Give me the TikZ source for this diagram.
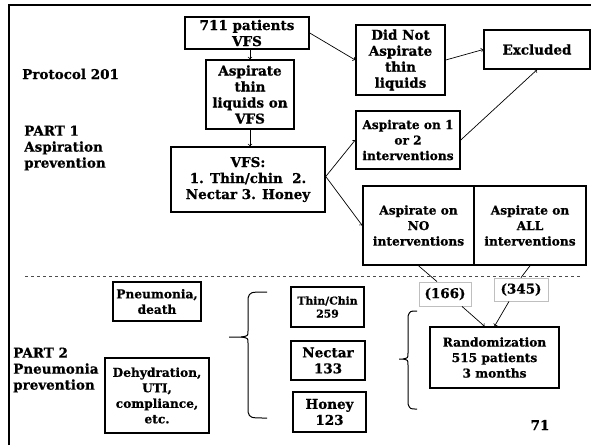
\documentclass[tikz,border=0pt]{standalone}
\usepackage{fontspec}
\setmainfont{DejaVu Serif}[BoldFeatures={FakeBold=0.8}]
\usetikzlibrary{calc}
\tikzset{
  big/.style={font=\bfseries\fontsize{13.5}{16}\selectfont},
  mid/.style={font=\bfseries\fontsize{12.2}{15.5}\selectfont},
  small/.style={font=\bfseries\fontsize{10.8}{13}\selectfont},
  box/.style={draw, line width=1.5pt, align=center, inner sep=1pt},
  count box/.style={draw=black!25, line width=0.8pt, align=center, inner sep=1pt},
  flow/.style={->, line width=0.7pt},
}
\begin{document}
\begin{tikzpicture}[x=1pt, y=-1pt, big]
\useasboundingbox (0,0) rectangle (591,445);
% frame
\draw [line width=2.5pt] (9,445) -- (9,5) -- (591,5);
% part 1
\node [box, minimum width=124, minimum height=32] (pat) at (247,33) {711 patients\\VFS};
\node [box, minimum width=88, minimum height=69] (thin) at (250,94.5) {Aspirate\\thin\\liquids on\\VFS};
\node [box, minimum width=154, minimum height=65] (vfs) at (248,179.5) {VFS:\\1. Thin/chin~~2.\\Nectar 3. Honey};
\node [box, minimum width=89, minimum height=70] (notasp) at (400.5,60) {Did Not\\Aspirate\\thin\\liquids};
\node [box, minimum width=106, minimum height=39] (excl) at (537,49.5) {Excluded};
\node [box, mid, minimum width=104, minimum height=58] (asp12) at (408,140) {Aspirate on 1\\or 2\\interventions};
\node [box, mid, minimum width=111, minimum height=79] (aspno) at (418.5,225.5) {Aspirate on\\NO\\interventions};
\node [box, mid, minimum width=112, minimum height=79] (aspall) at (530,225.5) {Aspirate on\\ALL\\interventions};
% part 2
\node [count box, minimum width=52, minimum height=24] (n166) at (445,294) {(166)};
\node [count box, minimum width=54, minimum height=23] (n345) at (521,289.5) {(345)};
\node [box, mid, minimum width=129, minimum height=61] (rand) at (494.5,357.5) {Randomization\\515 patients\\3 months};
\node [box, small, minimum width=73, minimum height=40] (thinchin) at (327.5,307) {Thin/Chin\\259};
\node [box, minimum width=74, minimum height=39] (nectar) at (328,360.5) {Nectar\\133};
\node [box, minimum width=73, minimum height=40] (honey) at (329.5,412) {Honey\\123};
\node [box, mid, minimum width=88, minimum height=39] (pneu) at (157,301.5) {Pneumonia,\\death};
\node [box, mid, minimum width=104, minimum height=75] (dehyd) at (157,395.5) {Dehydration,\\UTI,\\compliance,\\etc.};
% side labels
\node [anchor=west, inner sep=0pt] (protocol) at (22,74) {Protocol 201};
\node [anchor=west, align=left, inner sep=0pt] (part1) at (24,148) {PART 1\\Aspiration\\prevention};
\node [anchor=west, align=left, inner sep=0pt] (part2) at (13,370) {PART 2\\Pneumonia\\prevention};
\node [inner sep=0pt] (page) at (540,425) {71};
% connectors
\draw [flow] (thin.north |- pat.south) -- (thin.north);
\draw [flow] (thin.south) -- (thin.south |- vfs.north);
\draw [flow] (pat.east) -- (notasp.west);
\draw [flow] (notasp.east) -- (excl.west);
\draw [flow] (asp12.east) -- (excl.south);
\draw [flow] ([yshift=3pt]vfs.east) -- (asp12.west);
\draw [flow] ([yshift=3pt]vfs.east) -- (aspno.west);
\draw [line width=0.7pt] (aspno.south) -- ([xshift=-8pt]n166.north);
\draw [line width=0.7pt] (aspall.south) -- (n345.north);
\draw [flow] ([xshift=17pt]n166.south) -- ([xshift=-10pt]rand.north);
\draw [flow] ([xshift=-12pt]n345.south) -- (rand.north);
% divider
\draw [dashed, line width=0.6pt, black!70] (25,276) -- (580,276);
% braces
\draw [line width=1pt] (267,292) .. controls (250,292) .. (248,298) -- (248,331)
  .. controls (248,336) .. (241,337) -- (229,337);
\draw [line width=1pt] (241,337) .. controls (248,338) .. (248,343) -- (248,412)
  .. controls (250,418) .. (267,418);
\draw [line width=1pt] (417,311) .. controls (410,311) .. (408,316) -- (408,353)
  .. controls (408,358) .. (403,359) -- (399,359);
\draw [line width=1pt] (403,359) .. controls (408,360) .. (408,365) -- (408,404)
  .. controls (410,409) .. (417,409);
\end{tikzpicture}
\end{document}
